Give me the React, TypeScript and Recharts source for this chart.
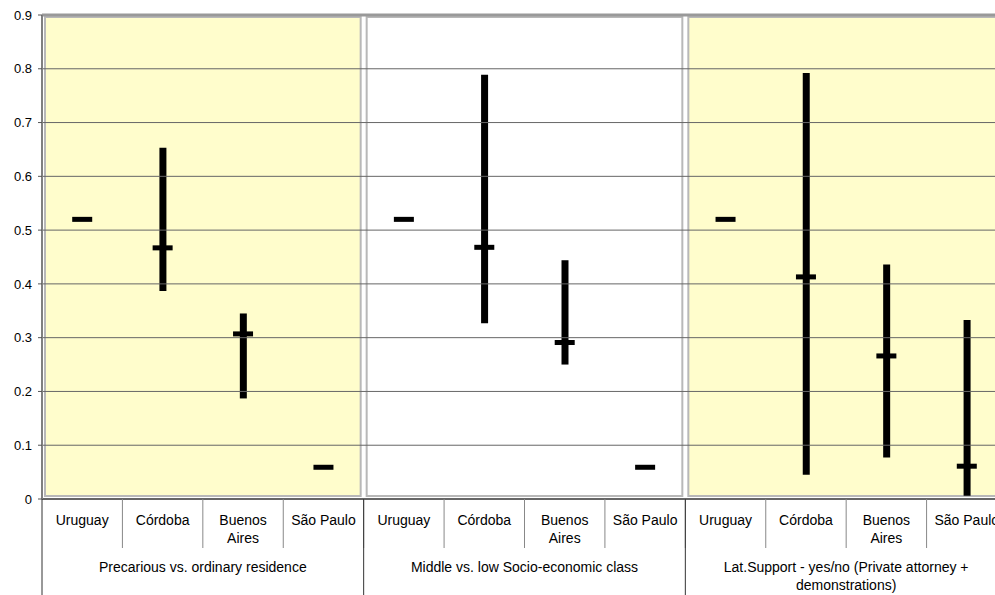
import React from 'react';
import {
  ComposedChart,
  Bar,
  Line,
  XAxis,
  YAxis,
  ReferenceArea,
  ReferenceLine,
} from 'recharts';

const cities = ['Uruguay', 'Córdoba', 'Buenos Aires', 'São Paulo'];
const groups = [
  'Precarious vs. ordinary residence',
  'Middle vs. low Socio-economic class',
  'Lat.Support - yes/no (Private attorney + demonstrations)',
];
const meanValues = [0.52, 0.467, 0.307, 0.059, 0.52, 0.468, 0.291, 0.059, 0.52, 0.413, 0.266, 0.061];
const lowValues = [null, 0.387, 0.187, null, null, 0.327, 0.25, null, null, 0.045, 0.077, 0.006];
const highValues = [null, 0.653, 0.345, null, null, 0.789, 0.444, null, null, 0.792, 0.436, 0.333];
const yTicks = [0, 0.1, 0.2, 0.3, 0.4, 0.5, 0.6, 0.7, 0.8, 0.9];
const panelFills = ['#FFFDCC', '#FFFFFF', '#FFFDCC'];

const data = meanValues.map((m, i) => ({
  key: `${i}`,
  city: cities[i % 4],
  group: Math.floor(i / 4),
  mean: m,
  range: lowValues[i] != null && highValues[i] != null ? [lowValues[i], highValues[i]] : null,
}));

const CHART_W = 1010;
const CHART_H = 600;
const M_LEFT = 0;
const M_RIGHT = 3;
const Y_W = 42;
const PLOT_W = CHART_W - M_LEFT - M_RIGHT - Y_W;
const BW = PLOT_W / data.length;
const FONT = 'Liberation Sans, Arial, sans-serif';

const PanelShape = (props: any) => {
  const { x, y, width, height, fill } = props;
  return (
    <rect
      x={x + 3}
      y={y + 2}
      width={width - 6}
      height={height - 5}
      fill={fill}
      stroke="#b8b8b8"
      strokeWidth={2}
    />
  );
};

const MeanDot = (props: any) => {
  const { cx, cy } = props;
  if (cx == null || cy == null) return null;
  return <rect x={cx - 10} y={cy - 2.5} width={20} height={5} fill="#000" />;
};

const XTick = (props: any) => {
  const { x, y, payload, index } = props;
  const i = typeof index === 'number' ? index : Number(payload.value);
  const d = data[i];
  const left = x - BW / 2;
  const right = x + BW / 2;
  const top = y - 8;
  const words = d.city === 'Buenos Aires' ? ['Buenos', 'Aires'] : [d.city];
  const els: any[] = [];
  els.push(<line key="t" x1={right} y1={top} x2={right} y2={top + 49} stroke="#888" strokeWidth={1} />);
  if (i % 4 === 0) {
    els.push(<line key="g" x1={left} y1={top} x2={left} y2={top + 100} stroke="#333" strokeWidth={1} />);
    const gi = d.group;
    const cx = left + BW * 2;
    const gLines =
      gi === 2
        ? ['Lat.Support - yes/no (Private attorney +', 'demonstrations)']
        : [groups[gi]];
    gLines.forEach((t, k) => {
      els.push(
        <text key={`gl${k}`} x={cx} y={top + 73 + k * 18} textAnchor="middle" fontSize={14} fontFamily={FONT} fill="#000">
          {t}
        </text>
      );
    });
  }
  words.forEach((w, k) => {
    els.push(
      <text key={`w${k}`} x={x} y={top + 26 + k * 18} textAnchor="middle" fontSize={14} fontFamily={FONT} fill="#000">
        {w}
      </text>
    );
  });
  return <g>{els}</g>;
};

export default function App() {
  return (
    <div style={{ position: 'absolute', left: 0, top: 0, width: 995, height: 595, overflow: 'hidden', background: '#fff' }}>
      <ComposedChart
        width={CHART_W}
        height={CHART_H}
        data={data}
        margin={{ top: 15, right: M_RIGHT, bottom: 1, left: M_LEFT }}
        barCategoryGap={0}
      >
        <XAxis
          dataKey="key"
          type="category"
          height={100}
          interval={0}
          tickLine={false}
          axisLine={{ stroke: '#333', strokeWidth: 1.5 }}
          tick={<XTick />}
        />
        <YAxis
          type="number"
          domain={[0, 0.9]}
          ticks={yTicks}
          width={Y_W}
          tickSize={4}
          tickMargin={6}
          axisLine={{ stroke: '#808080', strokeWidth: 2 }}
          tickLine={{ stroke: '#555' }}
          tick={{ fontSize: 13, fontFamily: FONT, fill: '#000' }}
          tickFormatter={(v: number) => (v === 0 ? '0' : v.toFixed(1))}
        />
        {groups.map((g, gi) => (
          <ReferenceArea
            key={g}
            x1={`${gi * 4}`}
            x2={`${gi * 4 + 3}`}
            y1={0}
            y2={0.9}
            fill={panelFills[gi]}
            fillOpacity={1}
            shape={<PanelShape fill={panelFills[gi]} />}
          />
        ))}
        {yTicks.slice(1, 9).map((t) => (
          <ReferenceLine key={t} y={t} stroke="#666" strokeWidth={1} />
        ))}
        <ReferenceLine y={0.9} stroke="#999" strokeWidth={3} />
        <Bar dataKey="range" barSize={7} fill="#000" isAnimationActive={false} />
        <Line
          dataKey="mean"
          stroke="none"
          dot={<MeanDot />}
          activeDot={false}
          isAnimationActive={false}
        />
      </ComposedChart>
    </div>
  );
}
